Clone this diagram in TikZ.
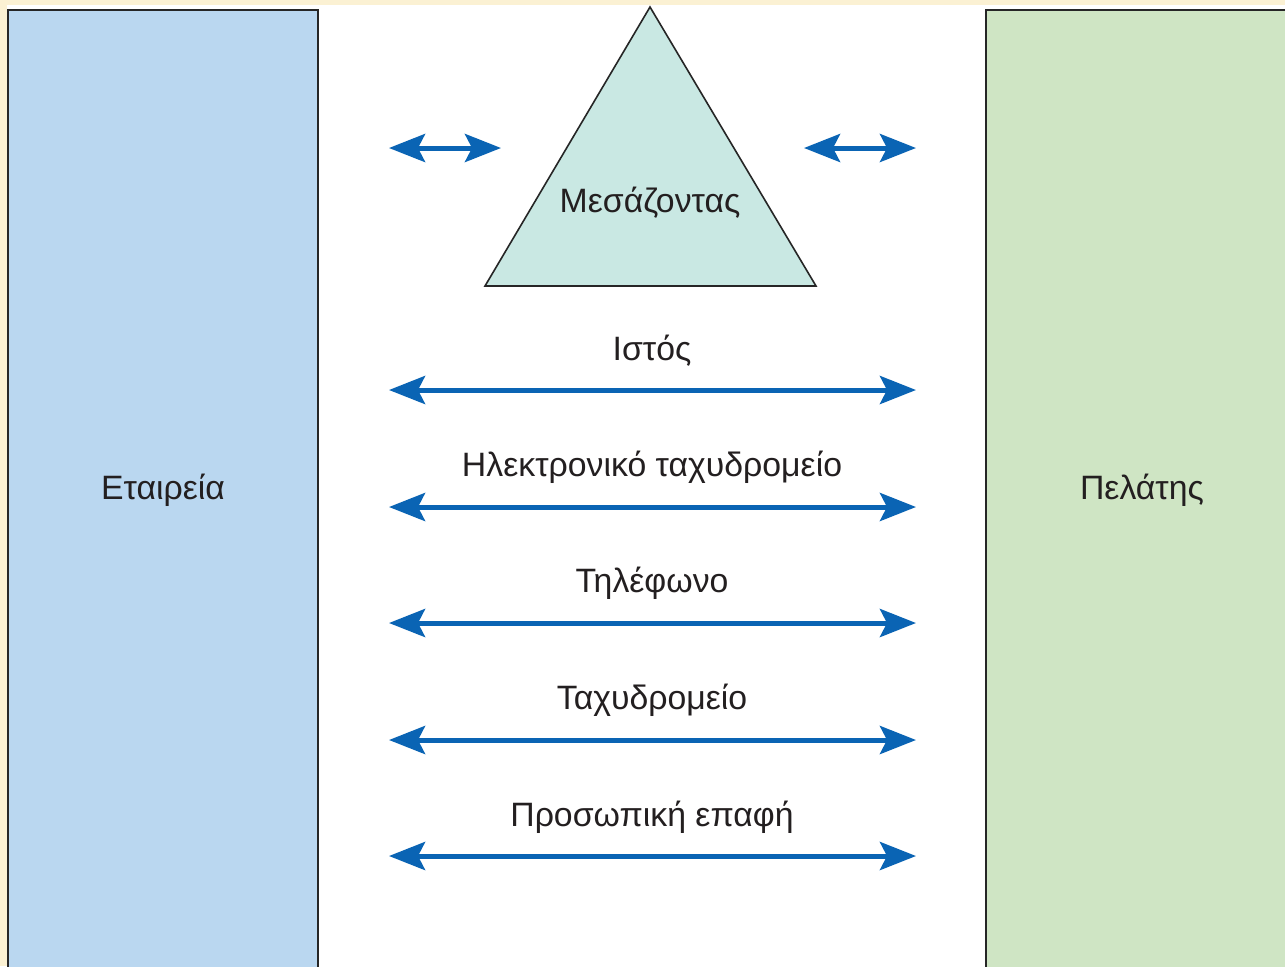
\documentclass[tikz,border=0pt]{standalone}
\usepackage{fontspec}
\setmainfont{Liberation Sans}
\usetikzlibrary{arrows.meta}
\definecolor{cream}{HTML}{FBF1D3}
\definecolor{boxblue}{HTML}{BAD7F0}
\definecolor{boxgreen}{HTML}{CFE5C4}
\definecolor{trifill}{HTML}{C9E8E3}
\definecolor{arrowblue}{HTML}{0A64B4}
\definecolor{txtgray}{HTML}{231F20}
\tikzset{
  sidebox/.style={draw=black!85,line width=1.1pt},
  biarrow/.style={draw=arrowblue,line width=2.5pt,
    {Stealth[length=18pt,width=14pt,inset=3.5pt]}-{Stealth[length=18pt,width=14pt,inset=3.5pt]}},
  lbl/.style={font=\fontsize{16.9}{19}\selectfont,text=txtgray,inner sep=0pt}
}
\begin{document}
\begin{tikzpicture}[x=0.5pt,y=-0.5pt]
\useasboundingbox (0,0) rectangle (1285,966);
\clip (0,0) rectangle (1285,966);
% background
\fill[cream] (0,0) rectangle (1285,966);
\fill[white] (7,5) rectangle (1285,966);
% side boxes
\filldraw[sidebox,fill=boxblue] (8,10) rectangle (318,980);
\filldraw[sidebox,fill=boxgreen] (986,10) rectangle (1300,980);
\node[lbl] (etaireia) at (163,490) {Εταιρεία};
\node[lbl] (pelatis) at (1142,490) {Πελάτης};
% intermediary
\filldraw[draw=black!85,line width=0.8pt,fill=trifill] (650,7) -- (816,286) -- (485,286) -- cycle;
\node[lbl] (mesazontas) at (650,203) {Μεσάζοντας};
\coordinate (mesL1) at (389,148);
\coordinate (mesL2) at (501,148);
\coordinate (mesR1) at (804,148);
\coordinate (mesR2) at (916,148);
\draw[biarrow] (mesL1) -- (mesL2);
\draw[biarrow] (mesR1) -- (mesR2);
% channels
\node[lbl] (istos) at (652,351) {Ιστός};
\coordinate (istosL) at (389,390);
\coordinate (istosR) at (916,390);
\draw[biarrow] (istosL) -- (istosR);
\node[lbl] (email) at (652,467) {Ηλεκτρονικό ταχυδρομείο};
\coordinate (emailL) at (389,507);
\coordinate (emailR) at (916,507);
\draw[biarrow] (emailL) -- (emailR);
\node[lbl] (tilefono) at (652,583) {Τηλέφωνο};
\coordinate (tilefonoL) at (389,623);
\coordinate (tilefonoR) at (916,623);
\draw[biarrow] (tilefonoL) -- (tilefonoR);
\node[lbl] (taxydromeio) at (652,700) {Ταχυδρομείο};
\coordinate (taxydromeioL) at (389,740);
\coordinate (taxydromeioR) at (916,740);
\draw[biarrow] (taxydromeioL) -- (taxydromeioR);
\node[lbl] (epafi) at (652,817) {Προσωπική επαφή};
\coordinate (epafiL) at (389,856);
\coordinate (epafiR) at (916,856);
\draw[biarrow] (epafiL) -- (epafiR);
\end{tikzpicture}
\end{document}
